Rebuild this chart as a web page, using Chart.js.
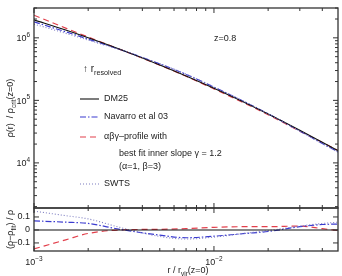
<!DOCTYPE html>
<html><head><meta charset="utf-8">
<script src="https://cdn.jsdelivr.net/npm/chart.js@4"></script>
<style>
  body{margin:0;background:#fff;width:342px;height:276px;overflow:hidden;position:relative}
  #top{position:absolute;left:0;top:0;width:342px;height:212px}
  #bot{position:absolute;left:0;top:206px;width:342px;height:70px}
</style></head><body>
<div id="top"><canvas id="profile"></canvas></div>
<div id="bot"><canvas id="resid"></canvas></div>
<script>
  // radii in units of r_vir(z=0)
  const radii   = [0.001, 0.0015, 0.002, 0.003, 0.005, 0.007, 0.01, 0.015, 0.02, 0.03, 0.04, 0.049];
  // density profiles rho(r)/rho_crit
  const dm25    = [1.94e6, 1.33e6, 1.0e6, 6.55e5, 3.68e5, 2.45e5, 1.556e5, 9.06e4, 6.04e4, 3.32e4, 2.14e4, 1.57e4];
  const navarro = [1.80e6, 1.25e6, 9.54e5, 6.52e5, 3.83e5, 2.60e5, 1.63e5, 9.30e4, 6.11e4, 3.24e4, 2.05e4, 1.50e4];
  const abgFit  = [2.3e6, 1.43e6, 1.031e6, 6.55e5, 3.66e5, 2.43e5, 1.525e5, 8.83e4, 5.89e4, 3.22e4, 2.12e4, 1.58e4];
  const swts    = [1.66e6, 1.18e6, 9.19e5, 6.42e5, 3.86e5, 2.62e5, 1.64e5, 9.29e4, 6.07e4, 3.22e4, 2.03e4, 1.48e4];
  // residuals (rho - rho_fit) / rho
  const resZero    = [0, 0, 0, 0, 0, 0, 0, 0, 0, 0, 0, 0];
  const resNavarro = [0.07, 0.06, 0.05, 0.005, -0.04, -0.06, -0.048, -0.027, -0.012, 0.025, 0.042, 0.045];
  const resAbg     = [-0.146, -0.076, -0.027, 0.0, 0.005, 0.01, 0.02, 0.025, 0.025, 0.03, 0.01, -0.005];
  const resSwts    = [0.145, 0.11, 0.085, 0.02, -0.05, -0.07, -0.055, -0.025, -0.005, 0.03, 0.05, 0.06];
  // axis ticks
  const xMajor = [1e-3, 1e-2];
  const yMajor = [1e4, 1e5, 1e6];
  const resTicks = [-0.1, 0, 0.1];

  const FAM = '"Liberation Sans", Arial, sans-serif';
  const BLUE = '#3b3bd0', RED = '#e2404c', DOT = '#7c7cc0';
  const styles = {
    dm25:    { borderColor:'#111', borderWidth:1.1, borderDash:[] },
    navarro: { borderColor:BLUE, borderWidth:1.2, borderDash:[6,2,1.5,2] },
    abg:     { borderColor:RED,  borderWidth:1.2, borderDash:[6,4] },
    swts:    { borderColor:DOT,  borderWidth:1.1, borderDash:[1,2] }
  };

  const pts = arr => radii.map((r, i) => ({ x:r, y:arr[i] }));

  // text with sub/superscripts: parts = [[text, 'up'|'dn'|undefined], ...]
  function rich(ctx, parts, x, y, align, size) {
    let w = 0;
    parts.forEach(p => { ctx.font = (p[1] ? size*0.72 : size) + 'px ' + FAM; w += ctx.measureText(p[0]).width; });
    let cx = align === 'center' ? x - w/2 : align === 'right' ? x - w : x;
    ctx.textBaseline = 'middle'; ctx.textAlign = 'left'; ctx.fillStyle = '#222';
    parts.forEach(p => {
      ctx.font = (p[1] ? size*0.72 : size) + 'px ' + FAM;
      const dy = p[1] === 'up' ? -size*0.42 : p[1] === 'dn' ? size*0.38 : 0;
      ctx.fillText(p[0], cx, y + dy);
      cx += ctx.measureText(p[0]).width;
    });
  }

  function logMinors(min, max) {
    const out = [];
    for (let e = Math.floor(Math.log10(min)); e <= Math.ceil(Math.log10(max)); e++)
      for (let m = 1; m < 10; m++) { const v = m * Math.pow(10, e); if (v >= min && v <= max) out.push([v, m === 1]); }
    return out;
  }

  // frame + inward ticks on all sides
  function drawFrame(chart, yTicks) {
    const { ctx, chartArea:a, scales } = chart;
    ctx.save();
    ctx.strokeStyle = '#333'; ctx.lineWidth = 1.3; ctx.setLineDash([]);
    ctx.strokeRect(a.left, a.top, a.right - a.left, a.bottom - a.top);
    ctx.lineWidth = 1;
    ctx.beginPath();
    logMinors(scales.x.min, scales.x.max).forEach(([v, major]) => {
      const px = scales.x.getPixelForValue(v), len = major ? 5 : 3;
      ctx.moveTo(px, a.top); ctx.lineTo(px, a.top + len);
      ctx.moveTo(px, a.bottom); ctx.lineTo(px, a.bottom - len);
    });
    yTicks.forEach(([v, major]) => {
      const py = scales.y.getPixelForValue(v), len = major ? 5 : 3;
      ctx.moveTo(a.left, py); ctx.lineTo(a.left + len, py);
      ctx.moveTo(a.right, py); ctx.lineTo(a.right - len, py);
    });
    ctx.stroke();
    ctx.restore();
  }

  const framePlugin = {
    id:'frame',
    afterDraw(chart) {
      const { ctx, chartArea:a, scales } = chart;
      if (chart.canvas.id === 'profile') {
        drawFrame(chart, logMinors(scales.y.min, scales.y.max));
        yMajor.forEach(v => {
          const e = Math.round(Math.log10(v));
          rich(ctx, [['10'], [String(e), 'up']], 30, scales.y.getPixelForValue(v) + 1, 'right', 9);
        });
        // y title
        ctx.save(); ctx.translate(11, 108); ctx.rotate(-Math.PI/2);
        rich(ctx, [['ρ(r)  / ρ'], ['crit', 'dn'], ['(z=0)']], 0, 0, 'center', 9);
        ctx.restore();
        rich(ctx, [['z=0.8']], 214, 39, 'left', 9);
        rich(ctx, [['↑ r'], ['resolved', 'dn']], 83, 69, 'left', 10);
        // legend
        const leg = [['dm25', 99, 'DM25'], ['navarro', 117, 'Navarro et al 03'], ['abg', 137, 'αβγ–profile with'], ['swts', 184, 'SWTS']];
        leg.forEach(([k, y, label]) => {
          const s = styles[k];
          ctx.save(); ctx.strokeStyle = s.borderColor; ctx.lineWidth = s.borderWidth; ctx.setLineDash(s.borderDash);
          ctx.beginPath(); ctx.moveTo(80, y); ctx.lineTo(99, y); ctx.stroke(); ctx.restore();
          rich(ctx, [[label]], 104, y, 'left', 9);
        });
        rich(ctx, [['best fit inner slope γ = 1.2']], 119, 154, 'left', 9);
        rich(ctx, [['(α=1, β=3)']], 119, 167, 'left', 9);
      } else {
        drawFrame(chart, resTicks.map(v => [v, true]));
        resTicks.forEach(v => {
          const t = v === 0 ? '0' : (v < 0 ? '−0.1' : '0.1');
          rich(ctx, [[t]], 30, scales.y.getPixelForValue(v), 'right', 9);
        });
        xMajor.forEach(v => {
          const e = Math.round(Math.log10(v));
          rich(ctx, [['10'], ['−' + Math.abs(e), 'up']], scales.x.getPixelForValue(v), a.bottom + 12, 'center', 9);
        });
        rich(ctx, [['r / r'], ['vir', 'dn'], ['(z=0)']], 188, a.bottom + 20, 'center', 9);
        ctx.save(); ctx.translate(11, (a.top + a.bottom)/2); ctx.rotate(-Math.PI/2);
        rich(ctx, [['(ρ−ρ'], ['fit', 'dn'], [') / ρ']], 0, 0, 'center', 9);
        ctx.restore();
      }
    }
  };

  const common = (padding, yScale) => ({
    responsive:true, maintainAspectRatio:false, animation:false,
    layout:{ padding },
    plugins:{ legend:{display:false}, tooltip:{enabled:false} },
    elements:{ point:{radius:0}, line:{cubicInterpolationMode:'monotone'} },
    scales:{
      x:{ type:'logarithmic', min:1e-3, max:0.0489, display:false },
      y:yScale
    }
  });

  const ds = (key, arr) => ({ data:pts(arr), fill:false, ...styles[key] });

  new Chart(document.getElementById('profile').getContext('2d'), {
    type:'line',
    data:{ datasets:[ ds('swts', swts), ds('dm25', dm25), ds('navarro', navarro), ds('abg', abgFit) ] },
    options:common({ left:34, right:4, top:8, bottom:4 }, { type:'logarithmic', min:1900, max:3e6, display:false }),
    plugins:[framePlugin]
  });

  new Chart(document.getElementById('resid').getContext('2d'), {
    type:'line',
    data:{ datasets:[ ds('dm25', resZero), ds('swts', resSwts), ds('navarro', resNavarro), ds('abg', resAbg) ] },
    options:common({ left:34, right:4, top:2, bottom:25 }, { type:'linear', min:-0.162, max:0.169, display:false }),
    plugins:[framePlugin]
  });
</script>
</body></html>
